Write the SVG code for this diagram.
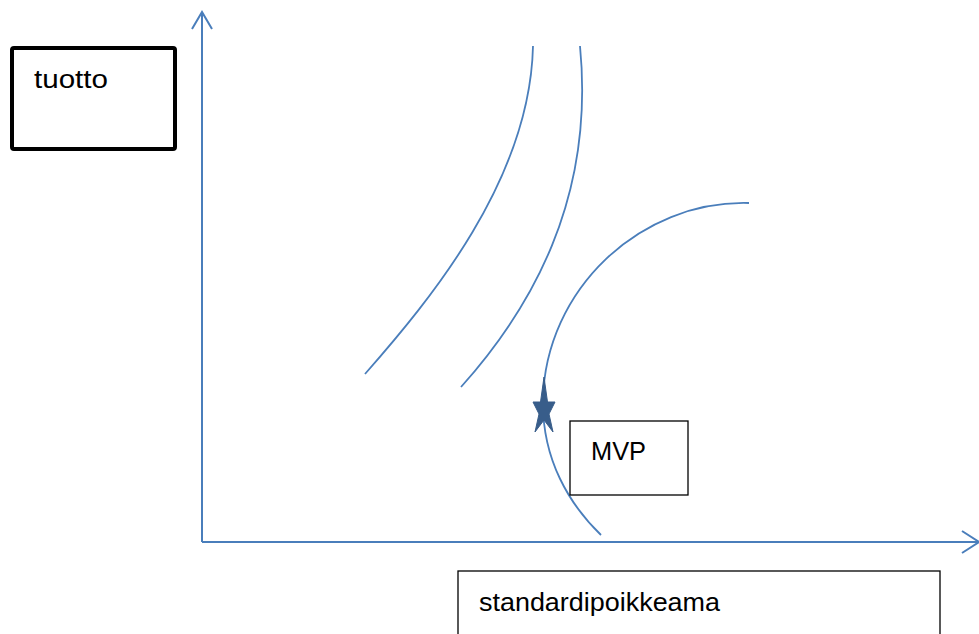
<svg xmlns="http://www.w3.org/2000/svg" width="979" height="634" viewBox="0 0 979 634">
<style>
.ax{stroke:#4A7EBB;stroke-width:2;fill:none}
.cv{stroke:#4A7EBB;stroke-width:1.8;fill:none}
.lbl{font-family:"Liberation Sans",Arial,sans-serif;font-size:26px;fill:#000}
.box{fill:#fff;stroke:#000;stroke-width:1.3}
</style>
<rect width="979" height="634" fill="#fff"/>
<g id="connectors">
<path class="ax" d="M202,542 V12 M192,29 L202,12 L212,29"/>
<path class="ax" d="M202,542 H979 M962,531 L979,542 L962,553"/>
<path class="cv" d="M365,374 C430,300 530,180 533,46"/>
<path class="cv" d="M461,387 C530,310 595,200 580,46"/>
<path class="cv" d="M749,203 C640,200 545,290 543,400 C542,460 570,505 601,535"/>
</g>
<g id="tuotto">
<rect x="12" y="48" width="163" height="101" rx="2" fill="#fff" stroke="#000" stroke-width="4"/>
<text class="lbl" x="34" y="88" textLength="74" lengthAdjust="spacingAndGlyphs">tuotto</text>
</g>
<g id="mvp-star">
<polygon points="544,377 547.5,402 555,402 549,414 553,432 544,420 535,432 539,414 533,402 540.5,402" fill="#385D8A" stroke="#385D8A" stroke-width="1"/>
</g>
<g id="mvp">
<rect class="box" x="570" y="421" width="118" height="74"/>
<text class="lbl" x="591" y="460" textLength="55" lengthAdjust="spacingAndGlyphs">MVP</text>
</g>
<g id="standardipoikkeama">
<rect class="box" x="458" y="571" width="482" height="70"/>
<text class="lbl" x="479" y="611" textLength="241" lengthAdjust="spacingAndGlyphs">standardipoikkeama</text>
</g>
</svg>
